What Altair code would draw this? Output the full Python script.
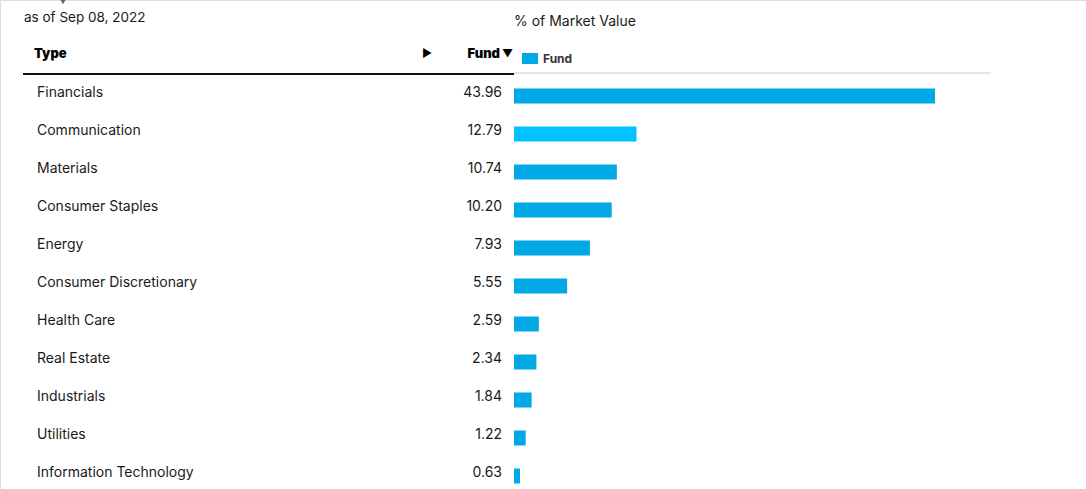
import altair as alt
import pandas as pd

categories = ["Financials", "Communication", "Materials", "Consumer Staples", "Energy",
              "Consumer Discretionary", "Health Care", "Real Estate", "Industrials",
              "Utilities", "Information Technology"]
values = [43.96, 12.79, 10.74, 10.20, 7.93, 5.55, 2.59, 2.34, 1.84, 1.22, 0.63]
highlighted = "Communication"

FONT = "Inter"
df = pd.DataFrame({"type": categories, "fund": values,
                   "label": [f"{v:.2f}" for v in values]})

yenc = alt.Y("type:N", sort=categories, axis=None,
             scale=alt.Scale(type="point", domain=categories, range=[92, 472], padding=0))

bars = alt.Chart(df).mark_bar(size=15, yOffset=4).encode(
    x=alt.X("fund:Q", axis=None,
            scale=alt.Scale(domain=[0, 43.96], range=[514, 935], nice=False, zero=True)),
    y=yenc,
    color=alt.condition(alt.datum.type == highlighted, alt.value("#00C3FF"), alt.value("#00A9E6")),
)

names = alt.Chart(df).mark_text(align="left", baseline="middle", font=FONT, dy=1,
                                fontSize=14, color="#1a1a1a").encode(
    x=alt.value(37), y=yenc, text="type:N")

nums = alt.Chart(df).mark_text(align="right", baseline="middle", font=FONT, dy=1,
                               fontSize=14, color="#1a1a1a").encode(
    x=alt.value(502), y=yenc, text="label:N")

def txt(s, x, y, align="left", size=13.5, weight="normal", color="#1a1a1a"):
    return alt.Chart(pd.DataFrame({"t": [s]})).mark_text(
        align=align, baseline="middle", font=FONT, fontSize=size,
        fontWeight=weight, color=color).encode(
        x=alt.value(x), y=alt.value(y), text="t:N")

one = pd.DataFrame({"a": [0]})

black_line = alt.Chart(one).mark_rule(color="#111", strokeWidth=2).encode(
    x=alt.value(23), x2=alt.value(514), y=alt.value(74))
gray_line = alt.Chart(one).mark_rule(color="#cccccc", strokeWidth=1).encode(
    x=alt.value(514), x2=alt.value(991), y=alt.value(73))
legend_sq = alt.Chart(one).mark_rect(color="#00A9E6").encode(
    x=alt.value(522), x2=alt.value(538), y=alt.value(53), y2=alt.value(64))
top_tri = alt.Chart(one).mark_point(shape="triangle-down", filled=True, color="#666",
                                    size=60, opacity=1).encode(
    x=alt.value(63), y=alt.value(1))

layers = [
    bars, names, nums,
    txt("as of Sep 08, 2022", 24, 18),
    txt("% of Market Value", 514, 22, size=14),
    txt("Type", 34, 54, size=13, weight=900, color="#000"),
    txt("▶", 422, 54, size=11, color="#000"),
    txt("Fund", 500, 54, align="right", size=13, weight=900, color="#000"),
    txt("▼", 513, 54, align="right", size=11, color="#000"),
    txt("Fund", 543, 59, size=12, weight="bold", color="#333"),
    black_line, gray_line, legend_sq, top_tri,
]

chart = alt.layer(*layers).properties(
    width=1086, height=489, autosize=alt.AutoSizeParams(type="none"), padding=0
).configure_view(stroke=None).configure(background="white")

chart.save("out.html", embed_options={"renderer": "svg", "actions": False})
